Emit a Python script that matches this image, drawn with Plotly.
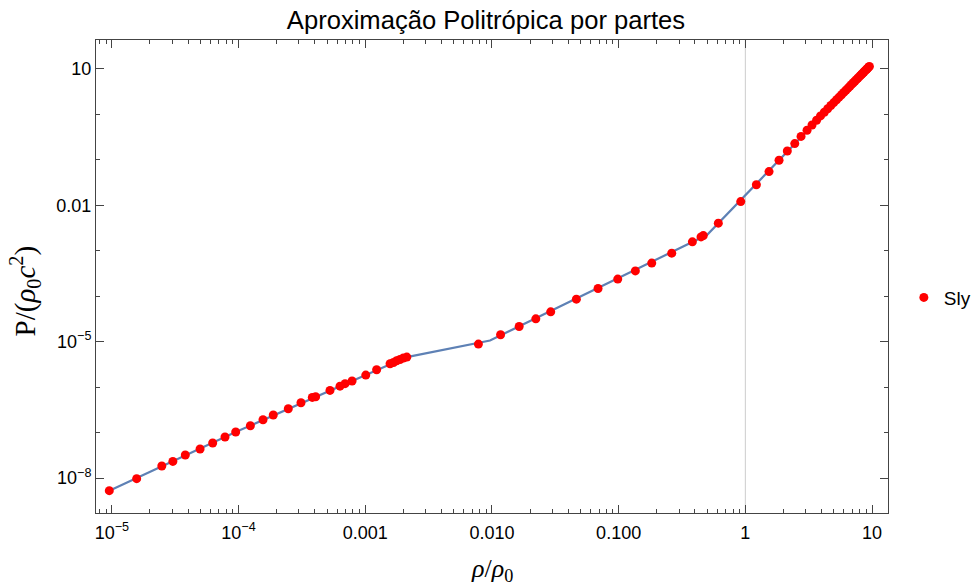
import plotly.graph_objects as go

# Sly tabulated EoS points (rho/rho0, P/(rho0 c^2))
sly_rho = [9.55e-6, 1.57e-5, 2.48e-5, 3.03e-5, 3.80e-5, 4.97e-5, 6.25e-5, 7.82e-5, 9.50e-5,
           1.24e-4, 1.56e-4, 1.88e-4, 2.47e-4, 3.11e-4, 3.82e-4, 4.06e-4, 5.27e-4, 6.32e-4,
           6.93e-4, 7.87e-4, 1.01e-3, 1.23e-3, 1.57e-3, 1.67e-3, 1.77e-3, 1.88e-3, 2.00e-3,
           2.13e-3, 7.82e-3, 1.17e-2, 1.64e-2, 2.22e-2, 2.91e-2, 4.64e-2, 6.88e-2, 9.84e-2,
           0.1355, 0.1825, 0.2624, 0.382, 0.447, 0.466, 0.612, 0.920, 1.222, 1.538, 1.845,
           2.144, 2.455, 2.753, 3.07, 3.36, 3.65, 3.92, 4.198, 4.467, 4.732, 4.989, 5.248,
           5.495, 5.741, 5.984, 6.223, 6.457, 6.683, 6.902, 7.112, 7.311, 7.516, 7.709,
           7.907, 8.091, 8.279, 8.453, 8.630, 8.790, 8.954, 9.099, 9.247, 9.397, 9.528]
sly_p = [5.26e-9, 9.66e-9, 1.84e-8, 2.32e-8, 3.21e-8, 4.35e-8, 5.89e-8, 7.98e-8, 1.03e-7,
         1.41e-7, 1.91e-7, 2.43e-7, 3.34e-7, 4.53e-7, 5.93e-7, 6.14e-7, 8.45e-7, 1.05e-6,
         1.19e-6, 1.36e-6, 1.84e-6, 2.41e-6, 3.27e-6, 3.49e-6, 3.80e-6, 4.06e-6, 4.36e-6,
         4.58e-6, 8.85e-6, 1.42e-5, 2.16e-5, 3.18e-5, 4.54e-5, 8.63e-5, 1.48e-4, 2.38e-4,
         3.61e-4, 5.35e-4, 8.87e-4, 1.57e-3, 2.02e-3, 2.16e-3, 4.05e-3, 1.21e-2, 2.84e-2,
         5.52e-2, 9.84e-2, 0.157, 0.228, 0.328, 0.449, 0.587, 0.745, 0.927, 1.120, 1.335,
         1.571, 1.825, 2.107, 2.400, 2.716, 3.054, 3.412, 3.787, 4.175, 4.575, 4.979,
         5.384, 5.822, 6.255, 6.720, 7.171, 7.654, 8.117, 8.607, 9.07, 9.552, 9.998,
         10.46, 10.96, 11.39]

# Piecewise polytrope approximation (nodes)
fit_rho = [9.55e-6, 9.5e-5, 1.01e-3, 2.13e-3, 9.66e-3, 0.50, 9.6]
fit_p = [5.26e-9, 1.03e-7, 1.84e-6, 4.58e-6, 1.06e-5, 2.25e-3, 11.6]

x_tickvals = [1e-5, 1e-4, 1e-3, 1e-2, 1e-1, 1, 10]
x_ticktext = ["10<sup>−5</sup>", "10<sup>−4</sup>", "0.001", "0.010", "0.100", "1", "10"]
y_tickvals = [1e-8, 1e-5, 1e-2, 10]
y_ticktext = ["10<sup>−8</sup>", "10<sup>−5</sup>", "0.01", "10"]

x_minor = [m * 10.0 ** e for e in range(-6, 2) for m in range(2, 10)]
y_minor = [10.0 ** e for e in range(-9, 3) if e not in (-8, -5, -2, 1)]

fig = go.Figure()
fig.add_trace(go.Scatter(x=fit_rho, y=fit_p, mode="lines",
                         line=dict(color="rgb(94,129,181)", width=2.2),
                         showlegend=False, hoverinfo="skip"))
fig.add_trace(go.Scatter(x=sly_rho, y=sly_p, mode="markers", name="Sly",
                         marker=dict(color="#ff0000", size=9)))

fig.add_shape(type="line", xref="x", yref="paper", x0=1, x1=1, y0=0, y1=1,
              line=dict(color="#cccccc", width=1), layer="below")

axis_common = dict(type="log", showgrid=False, zeroline=False, showline=True,
                   linecolor="#444444", linewidth=1, mirror="ticks",
                   ticks="inside", ticklen=8, tickcolor="#444444", tickwidth=1,
                   tickfont=dict(family="Liberation Sans, Arial", size=18, color="#000"))

fig.update_xaxes(range=[-5.125, 1.126], tickvals=x_tickvals, ticktext=x_ticktext,
                 ticklabelstandoff=3,
                 minor=dict(tickvals=x_minor, ticks="inside", ticklen=4,
                            tickcolor="#444444", showgrid=False),
                 **axis_common)
fig.update_yaxes(range=[-8.77, 1.638], tickvals=y_tickvals, ticktext=y_ticktext,
                 minor=dict(tickvals=y_minor, ticks="inside", ticklen=4,
                            tickcolor="#444444", showgrid=False),
                 **axis_common)

fig.update_layout(
    width=972, height=587,
    margin=dict(l=96, r=84, t=40, b=74, autoexpand=False),
    paper_bgcolor="white", plot_bgcolor="white",
    title=dict(text="Aproximação Politrópica por partes", x=0.5, xanchor="center",
               y=1 - 20 / 587, yref="container", yanchor="middle",
               font=dict(family="Liberation Sans, Arial", size=25.6, color="#000")),
    legend=dict(x=1.02, y=0.4555, xanchor="left", yanchor="middle",
                font=dict(family="Liberation Sans, Arial", size=19, color="#000"),
                bgcolor="rgba(0,0,0,0)"),
    annotations=[
        dict(text="<i>ρ</i>/<i>ρ</i><sub>0</sub>", xref="paper", yref="paper",
             x=0.5, y=-0.12, xanchor="center", yanchor="middle", showarrow=False,
             font=dict(family="Liberation Serif, Times New Roman", size=26, color="#000")),
        dict(text="P/(<i>ρ</i><sub>0</sub><i>c</i><sup>2</sup>)", xref="paper", yref="paper",
             x=-0.09, y=0.47, xanchor="center", yanchor="middle", showarrow=False,
             textangle=-90,
             font=dict(family="Liberation Serif, Times New Roman", size=29, color="#000")),
    ],
)

fig.write_html("out.html")
